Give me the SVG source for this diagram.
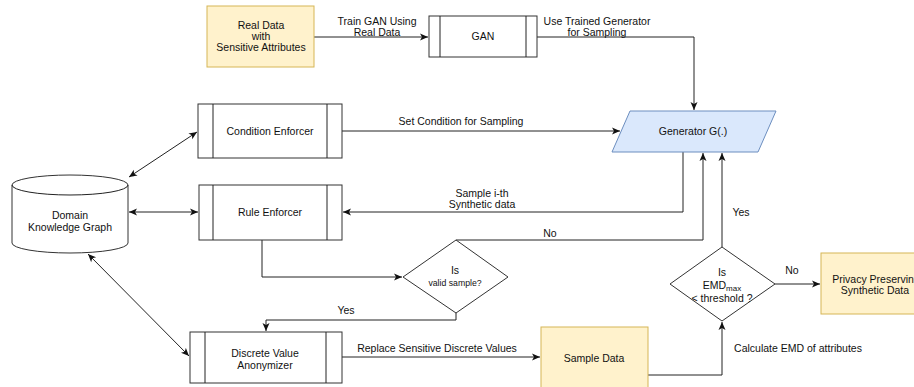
<svg xmlns="http://www.w3.org/2000/svg" width="914" height="387" viewBox="0 0 914 387">
<style>
text{font-family:"Liberation Sans",Arial,Helvetica,sans-serif;font-size:10.5px;fill:#111;text-anchor:middle;dominant-baseline:central}
.box{fill:#fff;stroke:#333;stroke-width:1}
.yel{fill:#fff2cc;stroke:#d6b656;stroke-width:1}
.blu{fill:#dae8fc;stroke:#6c8ebf;stroke-width:1}
.ln{fill:none;stroke:#222;stroke-width:1}
.sm{font-size:8.7px}
</style>
<defs>
<marker id="ah" markerWidth="10" markerHeight="8" refX="8" refY="4" orient="auto" markerUnits="userSpaceOnUse">
<path d="M0,0.5 L8,4 L0,7.5 L2,4 Z" fill="#111"/>
</marker>
<marker id="as" markerWidth="10" markerHeight="8" refX="0" refY="4" orient="auto" markerUnits="userSpaceOnUse">
<path d="M8,0.5 L0,4 L8,7.5 L6,4 Z" fill="#111"/>
</marker>
</defs>

<g id="connectors">
<path class="ln" d="M314,37 H428" marker-end="url(#ah)"/>
<path class="ln" d="M537,37 H694 V110" marker-end="url(#ah)"/>
<path class="ln" d="M342,131 H620" marker-end="url(#ah)"/>
<path class="ln" d="M129,177 L197,132" marker-start="url(#as)" marker-end="url(#ah)"/>
<path class="ln" d="M129,212 H198" marker-start="url(#as)" marker-end="url(#ah)"/>
<path class="ln" d="M88,254 L189,356" marker-start="url(#as)" marker-end="url(#ah)"/>
<path class="ln" d="M683,152 V212 H343" marker-end="url(#ah)"/>
<path class="ln" d="M262,240 V277 H402" marker-end="url(#ah)"/>
<path class="ln" d="M456,240 H703 V153" marker-end="url(#ah)"/>
<path class="ln" d="M456,313 V320 H266 V331" marker-end="url(#ah)"/>
<path class="ln" d="M342,357 H540" marker-end="url(#ah)"/>
<path class="ln" d="M648,375 H722 V322" marker-end="url(#ah)"/>
<path class="ln" d="M722,247 V153" marker-end="url(#ah)"/>
<path class="ln" d="M775,284 H820" marker-end="url(#ah)"/>
<text x="377" y="20.5">Train GAN Using</text>
<text x="377" y="31.5">Real Data</text>
<text x="597" y="20.5">Use Trained Generator</text>
<text x="597" y="31.5">for Sampling</text>
<text x="461" y="121">Set Condition for Sampling</text>
<text x="482" y="192.5">Sample i-th</text>
<text x="482" y="204">Synthetic data</text>
<text x="550" y="233">No</text>
<text x="346" y="310">Yes</text>
<text x="741" y="212">Yes</text>
<text x="792" y="270">No</text>
<text x="437" y="348">Replace Sensitive Discrete Values</text>
<text x="798" y="348">Calculate EMD of attributes</text>
</g>

<g id="real-data">
<rect class="yel" x="207" y="6" width="107" height="61"/>
<text x="261" y="25">Real Data</text>
<text x="261" y="36">with</text>
<text x="261" y="47">Sensitive Attributes</text>
</g>

<g id="gan">
<rect class="box" x="429" y="16" width="108" height="41"/>
<line class="ln" x1="440" y1="16" x2="440" y2="57"/>
<line class="ln" x1="526" y1="16" x2="526" y2="57"/>
<text x="483" y="36">GAN</text>
</g>

<g id="generator">
<polygon class="blu" points="630,111 776,111 758,152 612,152"/>
<text x="693" y="131">Generator G(.)</text>
</g>

<g id="condition-enforcer">
<rect class="box" x="198" y="104" width="144" height="54"/>
<line class="ln" x1="213" y1="104" x2="213" y2="158"/>
<line class="ln" x1="327" y1="104" x2="327" y2="158"/>
<text x="270" y="131">Condition Enforcer</text>
</g>

<g id="rule-enforcer">
<rect class="box" x="199" y="185" width="143" height="55"/>
<line class="ln" x1="213" y1="185" x2="213" y2="240"/>
<line class="ln" x1="327" y1="185" x2="327" y2="240"/>
<text x="270" y="212">Rule Enforcer</text>
</g>

<g id="knowledge-graph">
<path class="box" d="M12,185 A58,10 0 0 1 128,185 V243 A58,10 0 0 1 12,243 Z"/>
<path class="ln" d="M12,185 A58,10 0 0 0 128,185"/>
<text x="70" y="215">Domain</text>
<text x="70" y="227">Knowledge Graph</text>
</g>

<g id="valid-sample">
<polygon class="box" points="456,240 508,277 456,313 403,277"/>
<text x="455" y="270">Is</text>
<text class="sm" x="455" y="283">valid sample?</text>
</g>

<g id="discrete-anonymizer">
<rect class="box" x="190" y="332" width="152" height="51"/>
<line class="ln" x1="205" y1="332" x2="205" y2="383"/>
<line class="ln" x1="326" y1="332" x2="326" y2="383"/>
<text x="265" y="353">Discrete Value</text>
<text x="265" y="365">Anonymizer</text>
</g>

<g id="sample-data">
<rect class="yel" x="541" y="327" width="107" height="66"/>
<text x="594" y="358">Sample Data</text>
</g>

<g id="emd-check">
<polygon class="box" points="722,247 775,284 722,321 670,284"/>
<text x="722" y="272">Is</text>
<text x="722" y="285">EMD<tspan font-size="8px" dy="3">max</tspan></text>
<text x="722" y="298">&lt; threshold ?</text>
</g>

<g id="privacy-data">
<rect class="yel" x="821" y="253" width="110" height="61"/>
<text x="876" y="278.5">Privacy Preserving</text>
<text x="875" y="290">Synthetic Data</text>
</g>
</svg>
